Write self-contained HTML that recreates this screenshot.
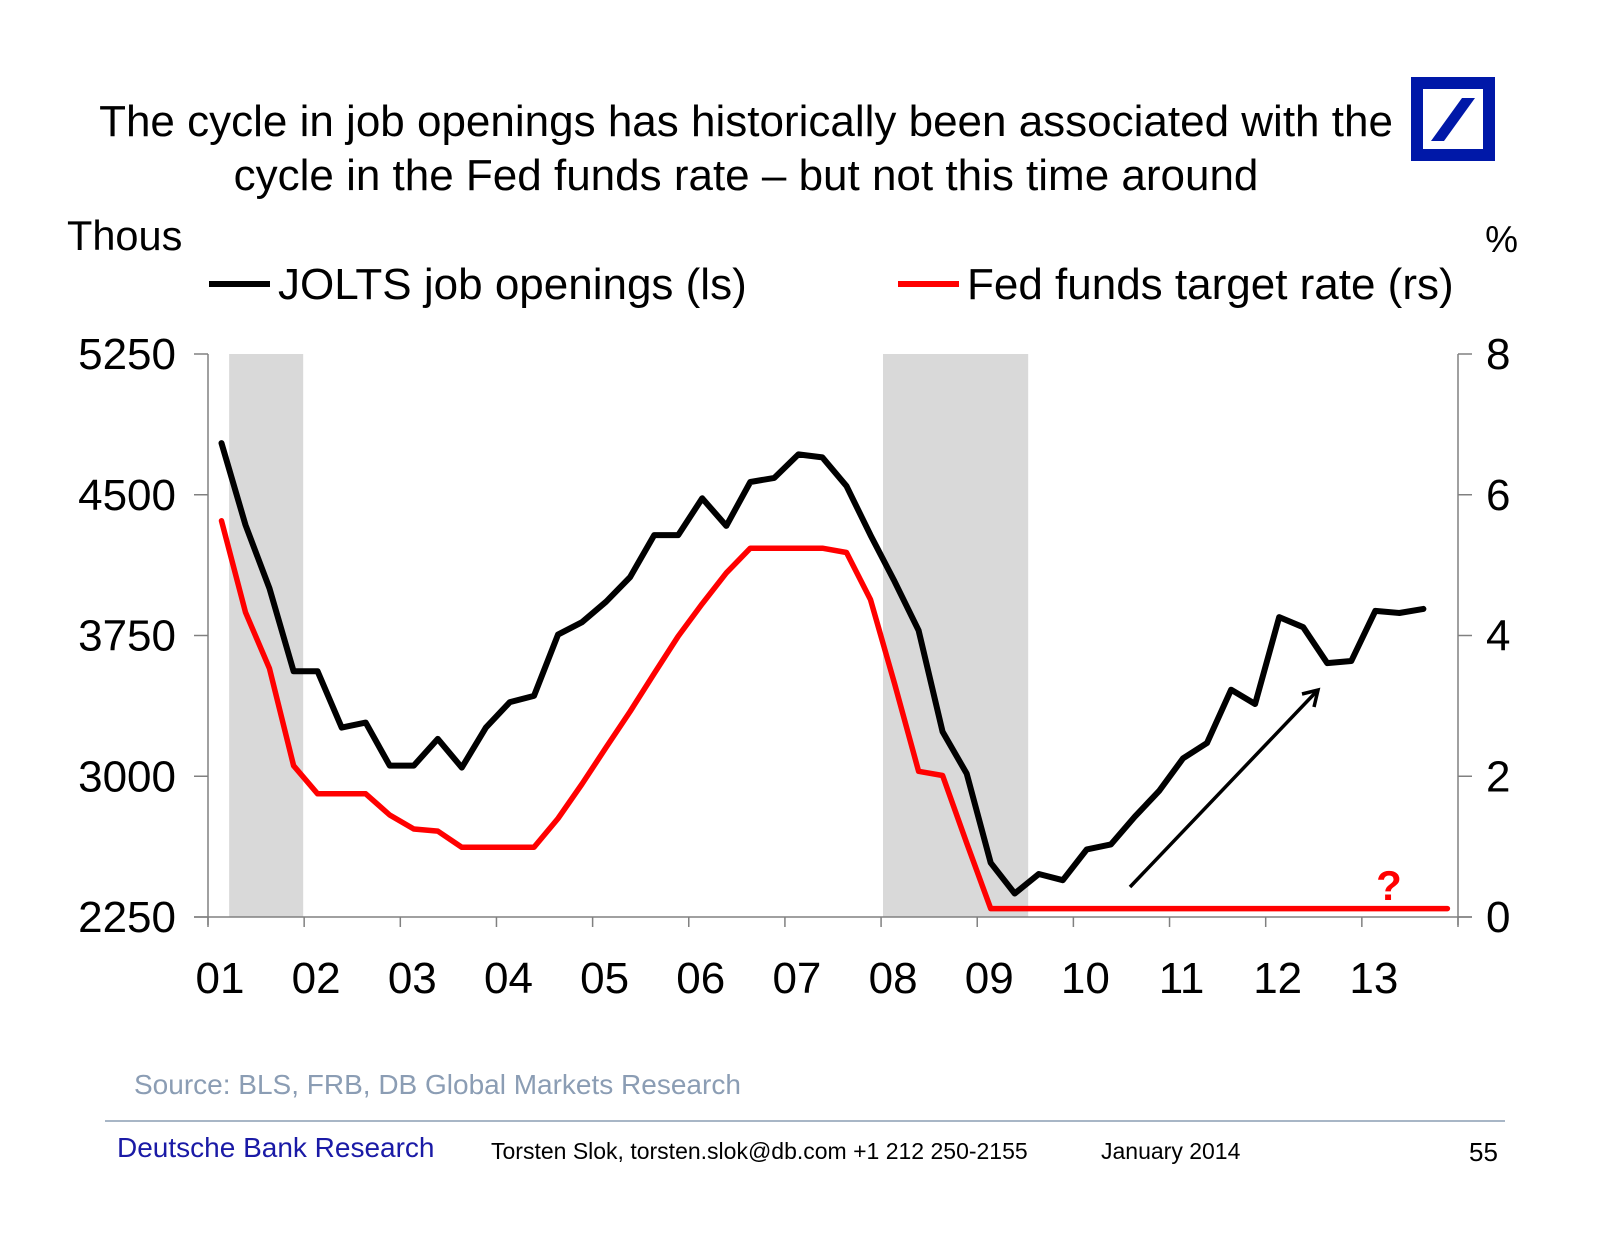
<!DOCTYPE html>
<html><head><meta charset="utf-8">
<style>
html,body{margin:0;padding:0;background:#fff;}
svg{display:block;font-family:"Liberation Sans",Arial,sans-serif;}
</style></head>
<body>
<svg id="chart" width="1600" height="1237" viewBox="0 0 1600 1237" xmlns="http://www.w3.org/2000/svg">
<g id="title" font-size="44" fill="#000" text-anchor="middle">
<text x="746" y="136">The cycle in job openings has historically been associated with the</text>
<text x="746" y="190">cycle in the Fed funds rate – but not this time around</text>
</g>
<g>
<rect x="1411" y="77" width="84" height="84" fill="#0018a8"/>
<rect x="1423" y="89" width="60" height="60" fill="#fff"/>
<polygon points="1431,141 1444,141 1475,98 1462,98" fill="#0018a8"/>
</g>
<text x="67" y="250" font-size="41.5">Thous</text>
<text x="1518" y="252" font-size="37" text-anchor="end">%</text>
<g>
<g>
<line x1="209" y1="284" x2="270" y2="284" stroke="#000" stroke-width="6"/>
<text x="278" y="299" font-size="44">JOLTS job openings (ls)</text>
</g>
<g>
<line x1="898" y1="284" x2="959" y2="284" stroke="#f00" stroke-width="6"/>
<text x="967" y="299" font-size="44">Fed funds target rate (rs)</text>
</g>
</g>
<g id="plot"></g>
<text x="134" y="1094" font-size="28" fill="#8b9db4">Source: BLS, FRB, DB Global Markets Research</text>
<line x1="105" y1="1121" x2="1505" y2="1121" stroke="#8b9db4" stroke-width="1.5"/>
<text x="117" y="1157" font-size="28" fill="#1a1aa6">Deutsche Bank Research</text>
<text x="491" y="1159" font-size="23">Torsten Slok, torsten.slok@db.com  +1 212 250-2155</text>
<text x="1101" y="1159" font-size="23">January 2014</text>
<text x="1469" y="1161" font-size="26">55</text>
</svg>
<script>
const years = ["01","02","03","04","05","06","07","08","09","10","11","12","13"];
const leftTicks = [2250, 3000, 3750, 4500, 5250];
const rightTicks = [0, 2, 4, 6, 8];
const recessions = [[2001.22, 2001.99], [2008.02, 2009.53]];
const startYear = 2001.14;
const joltsValues = [4775,4339,4001,3559,3559,3259,3286,3057,3057,3199,3046,3259,3395,3428,3755,3821,3930,4061,4285,4285,4481,4334,4568,4590,4715,4699,4546,4285,4039,3777,3237,3014,2539,2375,2479,2446,2610,2637,2785,2921,3095,3177,3461,3385,3848,3794,3603,3614,3881,3870,3892];
const fedValues = [5.63,4.33,3.53,2.15,1.75,1.75,1.75,1.45,1.25,1.22,0.99,0.99,0.99,0.99,1.40,1.89,2.41,2.92,3.46,3.99,4.45,4.89,5.24,5.24,5.24,5.24,5.18,4.51,3.32,2.07,2.01,1.05,0.12,0.12,0.12,0.12,0.12,0.12,0.12,0.12,0.12,0.12,0.12,0.12,0.12,0.12,0.12,0.12,0.12,0.12,0.12,0.12];

const NS = "http://www.w3.org/2000/svg";
const X0 = 208, X1 = 1458, Y0 = 917, Y1 = 354;
const xScale = t => X0 + (t - 2001) / 13 * (X1 - X0);
const yLeft = v => Y0 - (v - 2250) / 3000 * (Y0 - Y1);
const yRight = v => Y0 - v / 8 * (Y0 - Y1);
const plot = document.getElementById("plot");
function mk(tag, attrs){const e=document.createElementNS(NS,tag);for(const k in attrs)e.setAttribute(k,attrs[k]);plot.appendChild(e);return e;}

recessions.forEach((r,i)=>{
  const e = mk("rect",{x:xScale(r[0]),y:Y1,width:xScale(r[1])-xScale(r[0]),height:Y0-Y1,fill:"#d9d9d9"});
  
  
});
let e;
e = mk("line",{x1:X0,y1:Y1,x2:X0,y2:Y0+8,stroke:"#808080","stroke-width":1.5});


e = mk("line",{x1:X1,y1:Y1,x2:X1,y2:Y0+8,stroke:"#808080","stroke-width":1.5});


e = mk("line",{x1:X0-14,y1:Y0,x2:X1+14,y2:Y0,stroke:"#808080","stroke-width":1.5});



leftTicks.forEach(v=>{
  const y=yLeft(v);
  mk("line",{x1:X0-14,y1:y,x2:X0,y2:y,stroke:"#808080","stroke-width":1.5});
  const t=mk("text",{x:176,y:y+15,"font-size":44,"text-anchor":"end"});
  t.textContent=v;
  
  
});
rightTicks.forEach(v=>{
  const y=yRight(v);
  mk("line",{x1:X1,y1:y,x2:X1+14,y2:y,stroke:"#808080","stroke-width":1.5});
  const t=mk("text",{x:1486,y:y+15,"font-size":44});
  t.textContent=v;
  
  
});
for(let i=0;i<=years.length;i++){
  const x=xScale(2001+i);
  mk("line",{x1:x,y1:Y0,x2:x,y2:Y0+10,stroke:"#808080","stroke-width":1.5});
}
years.forEach((lab,i)=>{
  const t=mk("text",{x:xScale(2001+i)+12,y:993,"font-size":44,"text-anchor":"middle"});
  t.textContent=lab;
  
  
});

const fedPts = fedValues.map((v,i)=>xScale(startYear+i*0.25).toFixed(1)+","+yRight(v).toFixed(1)).join(" ");
e = mk("polyline",{points:fedPts,fill:"none",stroke:"#f00","stroke-width":5.5,"stroke-linejoin":"round","stroke-linecap":"round"});


const jPts = joltsValues.map((v,i)=>xScale(startYear+i*0.25).toFixed(1)+","+yLeft(v).toFixed(1)).join(" ");
e = mk("polyline",{points:jPts,fill:"none",stroke:"#000","stroke-width":6,"stroke-linejoin":"round","stroke-linecap":"round"});



e = mk("line",{x1:1130,y1:887,x2:1316,y2:692,stroke:"#000","stroke-width":3.5});


e = mk("polyline",{points:"1302,694 1318,690 1314,707",fill:"none",stroke:"#000","stroke-width":3.5});


e = mk("text",{x:1389,y:900,"font-size":42,"font-weight":"bold",fill:"#f00","text-anchor":"middle"});
e.textContent="?";


</script>
</body></html>
